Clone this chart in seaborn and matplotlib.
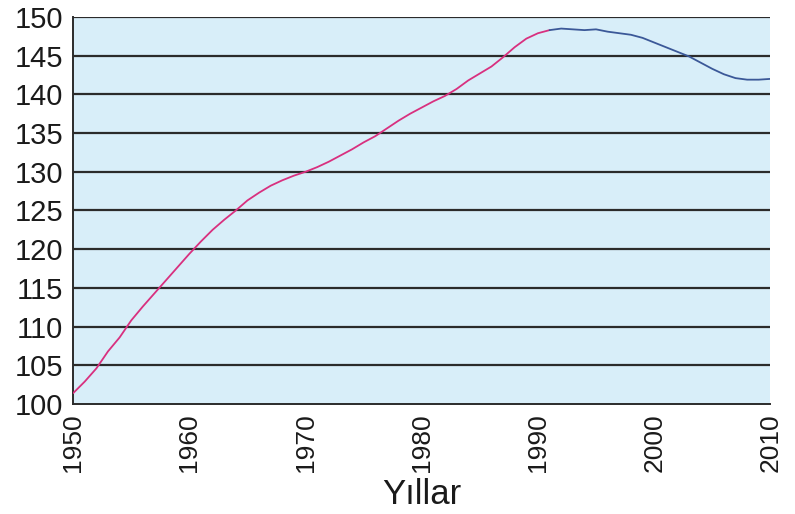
import matplotlib
matplotlib.use("Agg")
import matplotlib.pyplot as plt
import seaborn as sns
import pandas as pd

# Values (population index, 1950-2010)
pink_years = list(range(1950, 1992))
pink_values = [101.4, 102.9, 104.6, 106.8, 108.6, 110.8, 112.6, 114.3, 116.0, 117.7,
               119.4, 121.0, 122.5, 123.8, 125.0, 126.3, 127.3, 128.2, 128.9, 129.5,
               130.0, 130.6, 131.3, 132.1, 132.9, 133.8, 134.6, 135.6, 136.6, 137.5,
               138.3, 139.1, 139.8, 140.7, 141.8, 142.7, 143.6, 144.8, 146.1, 147.2,
               147.9, 148.3]
blue_years = list(range(1991, 2011))
blue_values = [148.3, 148.5, 148.4, 148.3, 148.4, 148.1, 147.9, 147.7, 147.3, 146.7,
               146.1, 145.5, 144.9, 144.1, 143.3, 142.6, 142.1, 141.9, 141.9, 142.0]
x_ticks = [1950, 1960, 1970, 1980, 1990, 2000, 2010]
y_ticks = [100, 105, 110, 115, 120, 125, 130, 135, 140, 145, 150]

df = pd.concat([
    pd.DataFrame({"year": pink_years, "value": pink_values, "part": "a"}),
    pd.DataFrame({"year": blue_years, "value": blue_values, "part": "b"}),
])

sns.set_style("white")
plt.rcParams["font.family"] = ["Liberation Sans", "DejaVu Sans"]

fig = plt.figure(figsize=(7.95, 5.14), dpi=100)
ax = fig.add_axes([0.092, 0.214, 0.877, 0.753])
ax.set_facecolor("#d8eef9")

# Horizontal grid lines
for v in y_ticks[1:]:
    ax.axhline(v, color="#2b2b2b", linewidth=1.6, zorder=1)

sns.lineplot(data=df, x="year", y="value", hue="part",
             palette={"a": "#d8307f", "b": "#3b5898"},
             linewidth=1.3, legend=False, ax=ax, zorder=3)

ax.set_xlim(1950, 2010)
ax.set_ylim(100, 150)
ax.set_xticks(x_ticks)
ax.set_yticks(y_ticks)
ax.set_xticklabels([str(t) for t in x_ticks], rotation=90, fontsize=19)
ax.set_yticklabels([str(t) for t in y_ticks], fontsize=21)
ax.tick_params(axis="both", direction="out", length=5, width=1.2, color="#2b2b2b",
               pad=2, labelcolor="#1a1a1a")

for side in ["top", "right"]:
    ax.spines[side].set_visible(False)
for side in ["left", "bottom"]:
    ax.spines[side].set_color("#2b2b2b")
    ax.spines[side].set_linewidth(1.4)

ax.set_xlabel("Yıllar", fontsize=25, color="#1a1a1a", labelpad=4)
ax.set_ylabel("")

plt.savefig("out.png", dpi=100)
